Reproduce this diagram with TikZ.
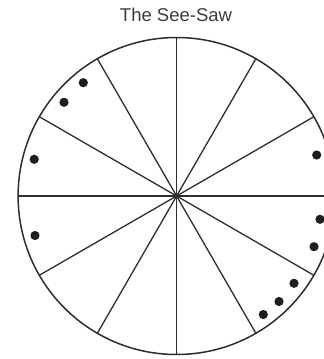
\documentclass[tikz,border=0pt]{standalone}
\usepackage{fontspec}
\setmainfont{Liberation Sans}
\definecolor{ink}{HTML}{2E2E2E}
\definecolor{txt}{HTML}{3C3C3C}
\definecolor{dotc}{HTML}{1E1E1E}
\begin{document}
\begin{tikzpicture}[x=1pt,y=-1pt,
  rim/.style={draw=ink,line width=1.5pt},
  spoke/.style={draw=ink,line width=1.3pt},
  ball/.style={fill=dotc}]
\useasboundingbox (0,0) rectangle (324,359);
\clip (0,0) rectangle (324,359);
\fill[white] (0,0) rectangle (324,359);
\node[text=txt,font=\fontsize{18.5}{20}\selectfont,inner sep=0pt] (title) at (176,15) {The See-Saw};
\coordinate (c) at (176.6,196);
\foreach \a in {0,30,...,330}{
  \draw[spoke] (c) -- ++(\a:158.5);
}
\draw[rim] (c) circle[radius=158.5];
\foreach \p in {(83.3,82.7),(64,102.3),(34.2,159.3),(35,235.5),
                (316.7,155),(320,219.3),(314,246.7),(294,283.3),(279,301.5),(263.3,314.5)}{
  \fill[ball] \p circle[radius=4.6];
}
\end{tikzpicture}
\end{document}
